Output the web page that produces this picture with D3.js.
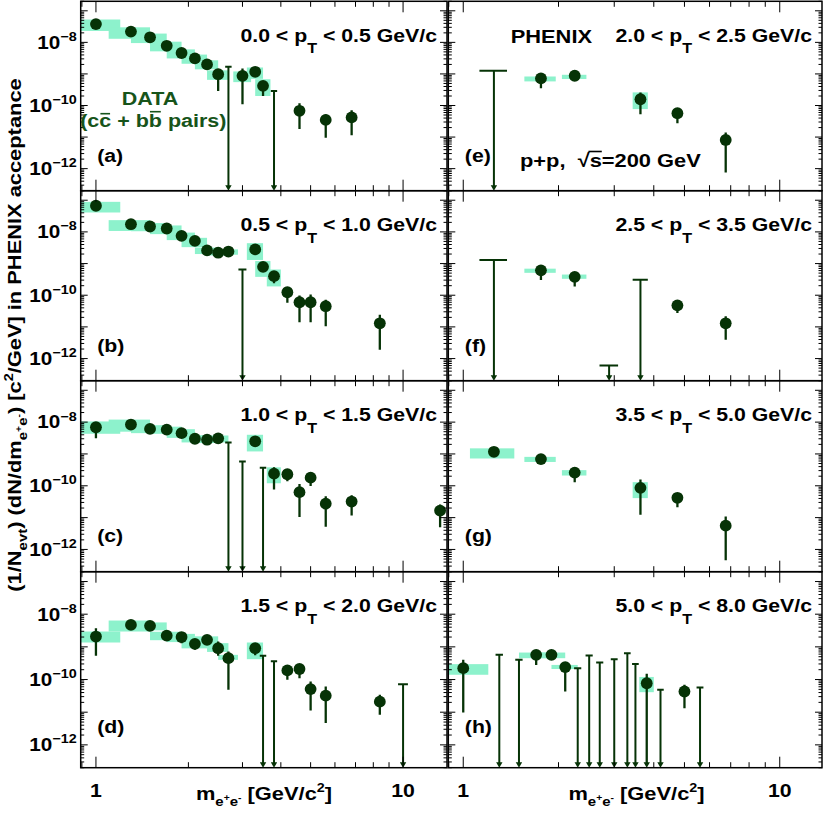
<!DOCTYPE html>
<html>
<head>
<meta charset="utf-8">
<script src="https://cdn.jsdelivr.net/npm/d3@7"></script>
<style>
  body { margin: 0; background: #fff; }
  svg { display: block; }
  text { font-family: "Liberation Sans", Arial, sans-serif; font-weight: bold; }
</style>
</head>
<body>
<svg id="chart" width="830" height="817"></svg>
<script>
// each point: [mass, yield, errLow, errHigh, sysLow, sysHigh]  (null = hidden by marker / no box)
// each upper limit: [mass, limit, half width of cap in GeV]
const sysHalfWidth = 0.2;

const ptsA = [
  [1.0, 3.8e-8, null, null, 2.3e-8, 5.3e-8],
  [1.3, 2.2e-8, null, null, 1.3e-8, 3.0e-8],
  [1.5, 1.45e-8, null, null, 9.5e-9, 1.9e-8],
  [1.7, 7.8e-9, null, null, 5.2e-9, 1.05e-8],
  [1.9, 4.6e-9, null, null, 3.1e-9, 6.0e-9],
  [2.1, 3.1e-9, null, null, 2.1e-9, 4.1e-9],
  [2.3, 2.0e-9, null, null, 1.4e-9, 2.7e-9],
  [2.5, 9.8e-10, 2.9e-10, 1.4e-9, 6.5e-10, 1.3e-9],
  [3.0, 8.7e-10, 1.1e-10, 1.5e-9, 5.5e-10, 1.2e-9],
  [3.3, 1.17e-9, null, null, 7.0e-10, 1.6e-9],
  [3.5, 4.2e-10, 2.0e-10, null, 2.0e-10, 6.8e-10],
  [4.6, 6.8e-11, 1.8e-11, 1.17e-10, null, null],
  [5.6, 3.5e-11, 9.5e-12, 5.2e-11, null, null],
  [6.8, 4.2e-11, 1.15e-11, 7.1e-11, null, null]
];
const ulsA = [[2.7, 1.7e-9, 0.065], [3.8, 2.9e-10, 0.09]];

const ptsB = [
  [1.0, 6.7e-8, null, null, 4.1e-8, 8.9e-8],
  [1.3, 1.75e-8, null, null, 1.07e-8, 2.35e-8],
  [1.5, 1.48e-8, null, null, 1.05e-8, 1.9e-8],
  [1.7, 1.28e-8, null, null, 8.5e-9, 1.6e-8],
  [1.9, 7.5e-9, null, null, 5.5e-9, 9.5e-9],
  [2.1, 5.2e-9, null, null, 3.3e-9, 6.5e-9],
  [2.3, 2.6e-9, null, null, 2.0e-9, 3.2e-9],
  [2.5, 2.2e-9, null, null, 1.8e-9, 2.6e-9],
  [2.7, 2.4e-9, null, null, 1.9e-9, 2.8e-9],
  [3.3, 2.8e-9, null, null, 1.3e-9, 4.4e-9],
  [3.5, 7.9e-10, null, null, 3.8e-10, 1.2e-9],
  [3.8, 4.0e-10, 2.4e-10, null, 1.9e-10, 6.5e-10],
  [4.2, 1.24e-10, 5.8e-11, 1.6e-10, null, null],
  [4.6, 6.0e-11, 1.4e-11, 9.8e-11, null, null],
  [5.0, 6.0e-11, 1.4e-11, 1.05e-10, null, null],
  [5.6, 4.5e-11, 1.05e-11, 7.2e-11, null, null],
  [8.4, 1.3e-11, 1.9e-12, 2.4e-11, null, null]
];
const ulsB = [[3.0, 6.5e-10, 0.09]];

const ptsC = [
  [1.0, 6.9e-9, 3.1e-9, null, 4.3e-9, 1.05e-8],
  [1.3, 8.4e-9, null, null, 5.0e-9, 1.2e-8],
  [1.5, 6.1e-9, null, null, 4.5e-9, 8.0e-9],
  [1.7, 5.8e-9, null, null, 4.3e-9, 7.2e-9],
  [1.9, 4.5e-9, null, null, 3.2e-9, 6.0e-9],
  [2.1, 3.0e-9, null, null, 2.3e-9, 3.9e-9],
  [2.3, 2.8e-9, null, null, 2.2e-9, 3.5e-9],
  [2.5, 3.1e-9, null, null, 2.3e-9, 3.8e-9],
  [3.3, 2.5e-9, null, null, 1.2e-9, 4.0e-9],
  [3.8, 2.4e-10, 7.7e-11, 3.8e-10, 1.2e-10, 3.8e-10],
  [4.2, 2.3e-10, 1.4e-10, 3.2e-10, null, null],
  [4.6, 6.3e-11, 1.05e-11, 1.13e-10, null, null],
  [5.0, 1.8e-10, 9.8e-11, 2.45e-10, null, null],
  [5.6, 2.75e-11, 5.2e-12, 4.7e-11, null, null],
  [6.8, 3.2e-11, 1.17e-11, 5.0e-11, null, null],
  [13.2, 1.65e-11, 5.0e-12, 2.6e-11, 1.2e-11, 2.2e-11]
];
const ulsC = [[2.7, 2.3e-9, 0.065], [3.0, 5.8e-10, 0.075], [3.5, 3.7e-10, 0.085]];

const ptsD = [
  [1.0, 2.07e-9, 5.3e-10, 3.7e-9, 1.36e-9, 2.95e-9],
  [1.3, 4.7e-9, null, null, 2.95e-9, 6.4e-9],
  [1.5, 4.4e-9, null, null, 3.2e-9, 5.6e-9],
  [1.7, 2.2e-9, null, null, 1.6e-9, 2.9e-9],
  [1.9, 2.0e-9, 1.3e-9, null, 1.4e-9, 2.5e-9],
  [2.1, 1.24e-9, 8.1e-10, null, 9.0e-10, 1.7e-9],
  [2.3, 1.64e-9, null, null, 1.1e-9, 2.1e-9],
  [2.5, 9.1e-10, 5.3e-10, 1.46e-9, 7.0e-10, 1.3e-9],
  [2.7, 4.5e-10, 4.9e-11, 7.2e-10, 4.0e-10, 5.7e-10],
  [3.3, 9.1e-10, 5.5e-10, null, 4.2e-10, 1.36e-9],
  [4.2, 1.9e-10, 9.8e-11, 2.5e-10, null, null],
  [4.6, 2.1e-10, 1.1e-10, 2.8e-10, null, null],
  [5.0, 5.1e-11, 1.13e-11, 8.7e-11, null, null],
  [5.6, 3.2e-11, 4.7e-12, 6.1e-11, null, null],
  [8.4, 2.1e-11, 8.3e-12, 3.4e-11, null, null]
];
const ulsD = [[3.5, 5.3e-10, 0.085], [3.8, 3.6e-10, 0.09], [10.0, 7.2e-11, 0.37]];

const ptsE = [
  [1.76, 7.2e-10, 3.5e-10, null, 5.8e-10, 8.3e-10],
  [2.25, 8.75e-10, null, null, 6.9e-10, 9.4e-10],
  [3.63, 1.58e-10, 5.3e-11, 2.6e-10, 7.7e-11, 2.6e-10],
  [4.75, 5.7e-11, 2.75e-11, null, null, null],
  [6.75, 8.1e-12, 7.5e-13, 1.39e-11, null, null]
];
const ulsE = [[1.25, 1.26e-9, 0.125]];

const ptsF = [
  [1.76, 6.1e-10, 3.0e-10, null, 5.1e-10, 6.9e-10],
  [2.25, 3.8e-10, 1.9e-10, null, 3.3e-10, 4.5e-10],
  [4.75, 4.8e-11, 2.75e-11, null, null, null],
  [6.75, 1.3e-11, 3.9e-12, 2.15e-11, null, null]
];
const ulsF = [[1.25, 1.29e-9, 0.125], [2.89, 6.0e-13, 0.195], [3.63, 3.1e-10, 0.2]];

const ptsG = [
  [1.25, 1.17e-9, null, null, 7.2e-10, 1.5e-9],
  [1.76, 6.9e-10, null, null, 5.6e-10, 8.1e-10],
  [2.25, 2.6e-10, 1.3e-10, null, 2.1e-10, 3.1e-10],
  [3.63, 8.6e-11, 1.23e-11, 1.58e-10, 4.1e-11, 1.3e-10],
  [4.75, 4.2e-11, 2.1e-11, null, null, null],
  [6.75, 5.6e-12, 4.6e-13, 1.09e-11, null, null]
];
const ulsG = [];

const ptsH = [
  [1.0, 2.23e-10, 9.8e-12, 4.0e-10, 1.4e-10, 2.96e-10],
  [1.7, 5.7e-10, 2.8e-10, null, 4.5e-10, 6.7e-10],
  [1.9, 5.7e-10, null, null, 4.5e-10, 6.7e-10],
  [2.1, 2.4e-10, 4.3e-11, 3.3e-10, 2.1e-10, 2.8e-10],
  [3.8, 7.7e-11, 0, 1.5e-10, 4.1e-11, 1.2e-10],
  [5.0, 4.3e-11, 1.33e-11, 6.9e-11, null, null]
];
const ulsH = [
  [1.3, 5.7e-10, 0.035], [1.5, 4.0e-10, 0.04], [2.3, 2.2e-10, 0.06], [2.5, 5.4e-10, 0.065],
  [2.7, 3.3e-10, 0.07], [3.0, 4.2e-10, 0.075], [3.3, 6.4e-10, 0.08], [3.5, 3.0e-10, 0.085],
  [4.2, 4.9e-11, 0.1], [5.6, 5.7e-11, 0.14]
];

const ptRanges = [["0.0", "0.5"], ["0.5", "1.0"], ["1.0", "1.5"], ["1.5", "2.0"],
                  ["2.0", "2.5"], ["2.5", "3.5"], ["3.5", "5.0"], ["5.0", "8.0"]];
const panelTags = ["(a)", "(b)", "(c)", "(d)", "(e)", "(f)", "(g)", "(h)"];
const xTickLabels = [1, 10];
const yTickLabels = [1e-8, 1e-10, 1e-12];

const allPts = [ptsA, ptsB, ptsC, ptsD, ptsE, ptsF, ptsG, ptsH];
const allUls = [ulsA, ulsB, ulsC, ulsD, ulsE, ulsF, ulsG, ulsH];

// layout
const colX = [[80.7, 447], [448.3, 822]];
const rowY = [[1.3, 190.7], [190.7, 380.7], [380.7, 571.7], [571.7, 767.7]];
const xDomains = [[0.892, 13.9], [0.897, 13.6]];
const yDomain = [2e-13, 2e-7];

const ink = "#063306";
const boxFill = "#8df2cc";
const dataGreen = "#17541a";
const sx = 1.15; // the original font is a bit wider than Helvetica

const svg = d3.select("#chart");

function label(parent, x, y, size, anchor, fill, rotate) {
  const g = parent.append("g")
    .attr("transform", `translate(${x},${y})` + (rotate ? " rotate(-90)" : "") + ` scale(${sx},1)`);
  return g.append("text")
    .attr("font-size", size)
    .attr("text-anchor", anchor)
    .attr("fill", fill || "#000");
}

function overline(t, idx, yOff, color) {
  const r = t.node().getExtentOfChar(idx);
  d3.select(t.node().parentNode).append("line")
    .attr("x1", r.x + 1).attr("x2", r.x + r.width - 1)
    .attr("y1", yOff).attr("y2", yOff)
    .attr("stroke", color).attr("stroke-width", 1.6);
}

allPts.forEach((pts, i) => {
  const c = Math.floor(i / 4), r = i % 4;
  const [x0, x1] = colX[c];
  const [y0, y1] = rowY[r];
  const x = d3.scaleLog().domain(xDomains[c]).range([x0, x1]);
  const y = d3.scaleLog().domain(yDomain).range([y1, y0]);

  svg.append("clipPath").attr("id", "clip" + i)
    .append("rect").attr("x", x0).attr("y", y0).attr("width", x1 - x0).attr("height", y1 - y0);

  const plot = svg.append("g").attr("clip-path", `url(#clip${i})`);

  // systematic boxes
  plot.selectAll("rect.sys")
    .data(pts.filter(d => d[4] != null))
    .join("rect")
    .attr("class", "sys")
    .attr("x", d => x(d[0] - sysHalfWidth))
    .attr("width", d => x(d[0] + sysHalfWidth) - x(d[0] - sysHalfWidth))
    .attr("y", d => y(d[5]))
    .attr("height", d => y(d[4]) - y(d[5]))
    .attr("fill", boxFill);

  // upper limits
  const uls = allUls[i];
  plot.selectAll("line.ul")
    .data(uls).join("line").attr("class", "ul")
    .attr("x1", d => x(d[0])).attr("x2", d => x(d[0]))
    .attr("y1", d => y(d[1])).attr("y2", y1 - 3)
    .attr("stroke", ink).attr("stroke-width", 2);
  plot.selectAll("line.cap")
    .data(uls).join("line").attr("class", "cap")
    .attr("x1", d => x(d[0] - d[2])).attr("x2", d => x(d[0] + d[2]))
    .attr("y1", d => y(d[1])).attr("y2", d => y(d[1]))
    .attr("stroke", ink).attr("stroke-width", 2);

  const arrowAt = uls.map(d => d[0]).concat(pts.filter(d => d[2] != null && d[2] < yDomain[0]).map(d => d[0]));
  plot.selectAll("path.arrow")
    .data(arrowAt).join("path").attr("class", "arrow")
    .attr("d", m => `M${x(m) - 3.2},${y1 - 5.5}L${x(m) + 3.2},${y1 - 5.5}L${x(m)},${y1}Z`)
    .attr("fill", ink);

  // statistical error bars
  plot.selectAll("line.err")
    .data(pts.filter(d => d[2] != null || d[3] != null)).join("line").attr("class", "err")
    .attr("x1", d => x(d[0])).attr("x2", d => x(d[0]))
    .attr("y1", d => d[3] != null ? y(d[3]) : y(d[1]))
    .attr("y2", d => d[2] != null ? (d[2] < yDomain[0] ? y1 - 3 : y(d[2])) : y(d[1]))
    .attr("stroke", ink).attr("stroke-width", 2.3);

  // markers
  plot.selectAll("circle")
    .data(pts).join("circle")
    .attr("cx", d => x(d[0])).attr("cy", d => y(d[1]))
    .attr("r", 5.9).attr("fill", ink);

  // ticks
  const ticks = svg.append("g").attr("stroke", "#000").attr("stroke-width", 1);
  const isDecade = v => Math.abs(Math.log10(v) - Math.round(Math.log10(v))) < 1e-6;
  y.ticks().forEach(t => {
    const len = isDecade(t) ? 7 : 3.5, py = y(t);
    ticks.append("line").attr("x1", x0).attr("x2", x0 + len).attr("y1", py).attr("y2", py);
    ticks.append("line").attr("x1", x1).attr("x2", x1 - len).attr("y1", py).attr("y2", py);
  });
  x.ticks().forEach(t => {
    const len = isDecade(t) ? 11 : 5.5, px = x(t);
    ticks.append("line").attr("x1", px).attr("x2", px).attr("y1", y1).attr("y2", y1 - len);
    ticks.append("line").attr("x1", px).attr("x2", px).attr("y1", y0).attr("y2", y0 + len);
  });

  // frame
  svg.append("rect")
    .attr("x", x0).attr("y", y0).attr("width", x1 - x0).attr("height", y1 - y0)
    .attr("fill", "none").attr("stroke", "#000").attr("stroke-width", 1.5);

  // y tick labels on the left column
  if (c === 0) {
    yTickLabels.forEach(v => {
      const t = label(svg, x0 - 4, y(v) + 6.3, 18, "end");
      t.append("tspan").text("10");
      t.append("tspan").attr("font-size", 12.5).attr("dy", -7.8).text("\u2212" + Math.round(-Math.log10(v)));
    });
  }
  // x tick labels on the bottom row
  if (r === 3) {
    xTickLabels.forEach(v => {
      label(svg, x(v), 796.7, 18.5, "middle").text(v);
    });
  }

  // pT range label
  const pt = label(svg, x1 - 10, y0 + 40.5, 18.5, "end");
  pt.append("tspan").text(`${ptRanges[i][0]} < p`);
  pt.append("tspan").attr("font-size", 14).attr("dy", 11.5).text("T");
  pt.append("tspan").attr("dy", -11.5).text(` < ${ptRanges[i][1]} GeV/c`);

  // panel tag
  label(svg, x0 + 16.5, y0 + 161, 18.5, "start").text(panelTags[i]);
});

// DATA legend in panel (a)
label(svg, 150, 105, 18.7, "middle", dataGreen).text("DATA");
const pairs = label(svg, 153.3, 126.7, 18.7, "middle", dataGreen).text("(cc + bb pairs)");
overline(pairs, 2, -13, dataGreen);
overline(pairs, 7, -15, dataGreen);

// experiment and system in panel (e)
label(svg, 510.7, 43.3, 19, "start").text("PHENIX");
const sys = label(svg, 520, 166.7, 19, "start").text("p+p,\u00A0 \u221As=200 GeV");
{
  const rs = sys.node().getExtentOfChar(7), rsq = sys.node().getExtentOfChar(6);
  d3.select(sys.node().parentNode).append("line")
    .attr("x1", rsq.x + rsq.width - 1).attr("x2", rs.x + rs.width)
    .attr("y1", -15.2).attr("y2", -15.2)
    .attr("stroke", "#000").attr("stroke-width", 1.6);
}

// x axis titles
[264, 636.5].forEach(cx => {
  const t = label(svg, cx, 800, 19, "middle");
  t.append("tspan").text("m");
  t.append("tspan").attr("font-size", 13).attr("dy", 6).text("e");
  t.append("tspan").attr("font-size", 9).attr("dy", -5).text("+");
  t.append("tspan").attr("font-size", 13).attr("dy", 5).text("e");
  t.append("tspan").attr("font-size", 9).attr("dy", -5).text("-");
  t.append("tspan").attr("dy", -1).text(" [GeV/c");
  t.append("tspan").attr("font-size", 12.5).attr("dy", -8).text("2");
  t.append("tspan").attr("dy", 8).text("]");
});

// y axis title
{
  const t = label(svg, 21, 335, 19, "middle", "#000", true);
  t.append("tspan").text("(1/N");
  t.append("tspan").attr("font-size", 13).attr("dy", 6).text("evt");
  t.append("tspan").attr("dy", -6).text(") (dN/dm");
  t.append("tspan").attr("font-size", 13).attr("dy", 6).text("e");
  t.append("tspan").attr("font-size", 9).attr("dy", -5).text("+");
  t.append("tspan").attr("font-size", 13).attr("dy", 5).text("e");
  t.append("tspan").attr("font-size", 9).attr("dy", -5).text("-");
  t.append("tspan").attr("dy", -1).text(") [c");
  t.append("tspan").attr("font-size", 12.5).attr("dy", -8).text("2");
  t.append("tspan").attr("dy", 8).text("/GeV] in PHENIX acceptance");
}
</script>
</body>
</html>
